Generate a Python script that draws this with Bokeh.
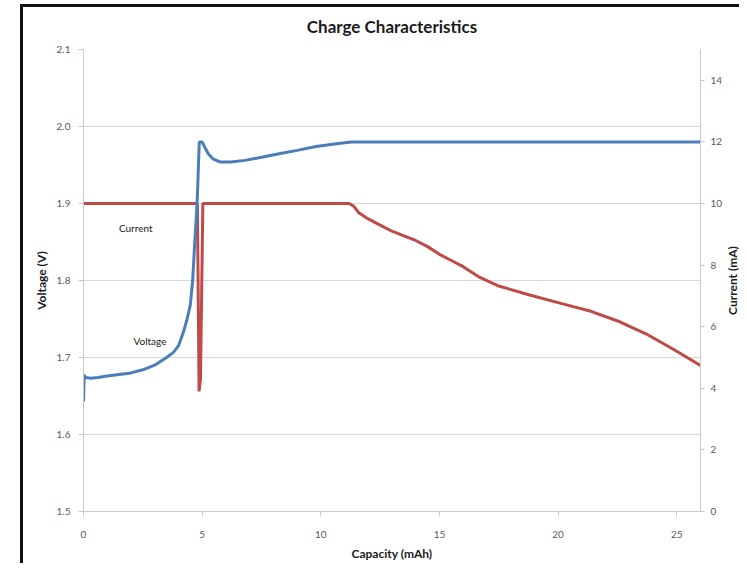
import math
from bokeh.plotting import figure
from bokeh.layouts import row
from bokeh.models import Range1d, LinearAxis, FixedTicker, InlineStyleSheet
from bokeh.core.properties import value
from bokeh.embed import file_html
from bokeh.resources import INLINE

# ---- data ----
cap_v = [0.0, 0.03, 0.1, 0.3, 0.6, 1.0, 1.5, 2.0, 2.5, 3.0, 3.5, 3.8, 4.0, 4.2,
         4.35, 4.5, 4.6, 4.68, 4.75, 4.8, 4.85, 4.88, 5.0, 5.08, 5.25, 5.45,
         5.75, 6.2, 6.8, 7.5, 8.3, 9.0, 9.8, 10.5, 11.0, 11.3, 12.0, 15.0, 20.0, 26.0]
voltage = [1.643, 1.677, 1.674, 1.673, 1.674, 1.676, 1.678, 1.680, 1.684, 1.690,
           1.700, 1.707, 1.715, 1.732, 1.748, 1.768, 1.800, 1.845, 1.880, 1.910,
           1.955, 1.980, 1.980, 1.975, 1.965, 1.958, 1.954, 1.954, 1.956, 1.960,
           1.965, 1.969, 1.974, 1.977, 1.979, 1.980, 1.980, 1.980, 1.980, 1.980]

cap_i = [0.0, 4.80, 4.87, 4.93, 5.03, 11.2, 11.4, 11.6, 12.0, 12.5, 13.0, 13.5,
         14.0, 14.5, 15.0, 15.5, 16.0, 16.7, 17.5, 18.8, 20.2, 21.3, 22.6, 23.7,
         24.8, 26.0]
current = [10.0, 10.0, 3.9, 4.3, 10.0, 10.0, 9.9, 9.7, 9.5, 9.3, 9.1, 8.95, 8.8,
           8.6, 8.35, 8.15, 7.95, 7.6, 7.32, 7.03, 6.74, 6.52, 6.16, 5.77, 5.29, 4.74]

x_ticks = [0, 5, 10, 15, 20, 25]
v_ticks = [1.5, 1.6, 1.7, 1.8, 1.9, 2.0, 2.1]
v_tick_labels = {1.5: "1.5", 1.6: "1.6", 1.7: "1.7", 1.8: "1.8", 1.9: "1.9", 2.0: "2.0", 2.1: "2.1"}
i_ticks = [0, 2, 4, 6, 8, 10, 12, 14]

label_text = ["Current", "Voltage"]
label_x = [2.2, 2.8]
label_y = [1.868, 1.722]

right_title = ["Current (mA)"]

FONT = "Lato"
BLUE = "#4a7ebb"
RED = "#be4b48"
AXIS_GRAY = "#c8c8c8"
TICK_COLOR = "#595959"

border_main = InlineStyleSheet(css="""
:host { position: relative; }
:host::after {
  content: ""; position: absolute; left: 20px; top: 4px; right: 0px; bottom: 0px;
  border-left: 3px solid #111; border-top: 3px solid #111;
  pointer-events: none; z-index: 10;
}
""")
border_side = InlineStyleSheet(css="""
:host { position: relative; }
:host::after {
  content: ""; position: absolute; left: 0px; top: 4px; right: 0px; bottom: 0px;
  border-top: 3px solid #111;
  pointer-events: none; z-index: 10;
}
""")

H = 563
p = figure(width=725, height=H, output_backend="svg", toolbar_location=None,
           x_range=Range1d(0, 26), y_range=Range1d(1.5, 2.1),
           title="Charge Characteristics",
           min_border_left=83, min_border_right=24, min_border_top=49, min_border_bottom=49,
           stylesheets=[border_main])
p.extra_y_ranges = {"cur": Range1d(0, 15)}

p.title.align = "center"
p.title.text_font = FONT
p.title.text_font_size = "17px"
p.title.text_font_style = "bold"
p.title.text_color = "#1a1a1a"
p.title.standoff = 26

p.outline_line_color = None
p.background_fill_color = "white"
p.border_fill_color = "white"

p.xgrid.visible = False
p.ygrid.ticker = FixedTicker(ticks=v_ticks)
p.ygrid.grid_line_color = "#d9d9d9"
p.ygrid.grid_line_width = 1

xa = p.xaxis[0]
xa.ticker = FixedTicker(ticks=x_ticks)
xa.axis_label = "Capacity (mAh)"
ya = p.yaxis[0]
ya.ticker = FixedTicker(ticks=v_ticks)
ya.major_label_overrides = v_tick_labels
ya.axis_label = "Voltage (V)"

ra = LinearAxis(y_range_name="cur", ticker=FixedTicker(ticks=i_ticks))
p.add_layout(ra, "right")

for ax in [xa, ya, ra]:
    ax.axis_line_color = AXIS_GRAY
    ax.major_tick_line_color = AXIS_GRAY
    ax.minor_tick_line_color = None
    ax.major_tick_in = 0
    ax.major_tick_out = 5
    ax.major_label_text_font = FONT
    ax.major_label_text_font_size = "10px"
    ax.major_label_text_color = TICK_COLOR
    ax.axis_label_text_font = FONT
    ax.axis_label_text_font_size = "12px"
    ax.axis_label_text_font_style = "bold"
    ax.axis_label_text_color = "#1a1a1a"
xa.major_label_standoff = 14
xa.axis_label_standoff = 5
ya.major_label_standoff = 8
ya.axis_label_standoff = 5
ra.major_tick_out = 4
ra.major_label_standoff = 6

p.line(cap_i, current, y_range_name="cur", line_color=RED, line_width=3)
p.line(cap_v, voltage, line_color=BLUE, line_width=3)

p.text(x=label_x, y=label_y, text=label_text, text_font=value(FONT),
       text_font_size="10px", text_align="center", text_baseline="middle",
       text_color="#1a1a1a")

# narrow strip holding the secondary axis title (reads upwards as in the reference)
side = figure(width=14, height=H, output_backend="svg", toolbar_location=None,
              x_range=Range1d(0, 1), y_range=Range1d(0, H),
              min_border=0, stylesheets=[border_side])
side.axis.visible = False
side.grid.visible = False
side.outline_line_color = None
side.background_fill_color = "white"
side.border_fill_color = "white"
side.text(x=[0.5], y=[H - (49 + 514) / 2], text=right_title, angle=math.pi / 2,
          text_font=value(FONT), text_font_size="12px", text_font_style="bold",
          text_color="#1a1a1a", text_align="center", text_baseline="middle")

layout = row(p, side, spacing=0)
open("out.html", "w").write(file_html(layout, INLINE))
